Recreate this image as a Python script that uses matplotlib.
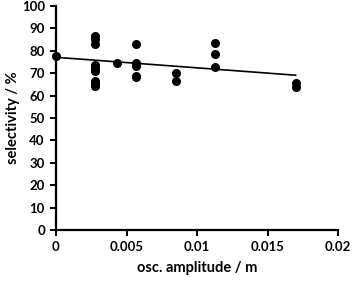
import numpy as np
import matplotlib
matplotlib.use("Agg")
import matplotlib.pyplot as plt

plt.rcParams['font.family'] = ['Lato', 'DejaVu Sans']

amplitude = [0.0, 0.0028, 0.0028, 0.0028, 0.0028, 0.0028, 0.0028, 0.0028, 0.0028, 0.0028,
             0.0043, 0.0057, 0.0057, 0.0057, 0.0057, 0.0057, 0.0085, 0.0085,
             0.0113, 0.0113, 0.0113, 0.017, 0.017]
selectivity = [77.8, 86.6, 85.1, 82.9, 73.7, 72.2, 71.1, 66.5, 65.5, 64.3,
               74.4, 83.2, 74.7, 73.0, 68.8, 68.2, 70.0, 66.7,
               83.6, 78.6, 72.9, 65.8, 63.7]
trend_x = [0.0, 0.017]
trend_y = [77.1, 69.1]

xticks = [0, 0.005, 0.01, 0.015, 0.02]
xticklabels = ['0', '0.005', '0.01', '0.015', '0.02']
yticks = list(range(0, 101, 10))

fig = plt.figure(figsize=(3.53, 2.81), dpi=100)
ax = fig.add_axes([56/353, 51/281, 282/353, 224/281])
ax.plot(trend_x, trend_y, color='black', lw=1.2, zorder=2)
ax.scatter(amplitude, selectivity, s=30, color='black', zorder=3, clip_on=False)
ax.set_xlim(0, 0.02)
ax.set_ylim(0, 100)
ax.set_xticks(xticks)
ax.set_xticklabels(xticklabels)
ax.set_yticks(yticks)
for s in ['top', 'right']:
    ax.spines[s].set_visible(False)
for s in ['left', 'bottom']:
    ax.spines[s].set_linewidth(1.6)
ax.tick_params(direction='out', length=4, width=1.4, labelsize=9.5, pad=4)
for lab in ax.get_xticklabels() + ax.get_yticklabels():
    lab.set_fontweight('bold')
ax.set_xlabel('osc. amplitude / m', fontsize=10.5, fontweight='bold', labelpad=6)
ax.set_ylabel('selectivity / %', fontsize=10.5, fontweight='bold', labelpad=1)
fig.savefig('out.png', dpi=100)
